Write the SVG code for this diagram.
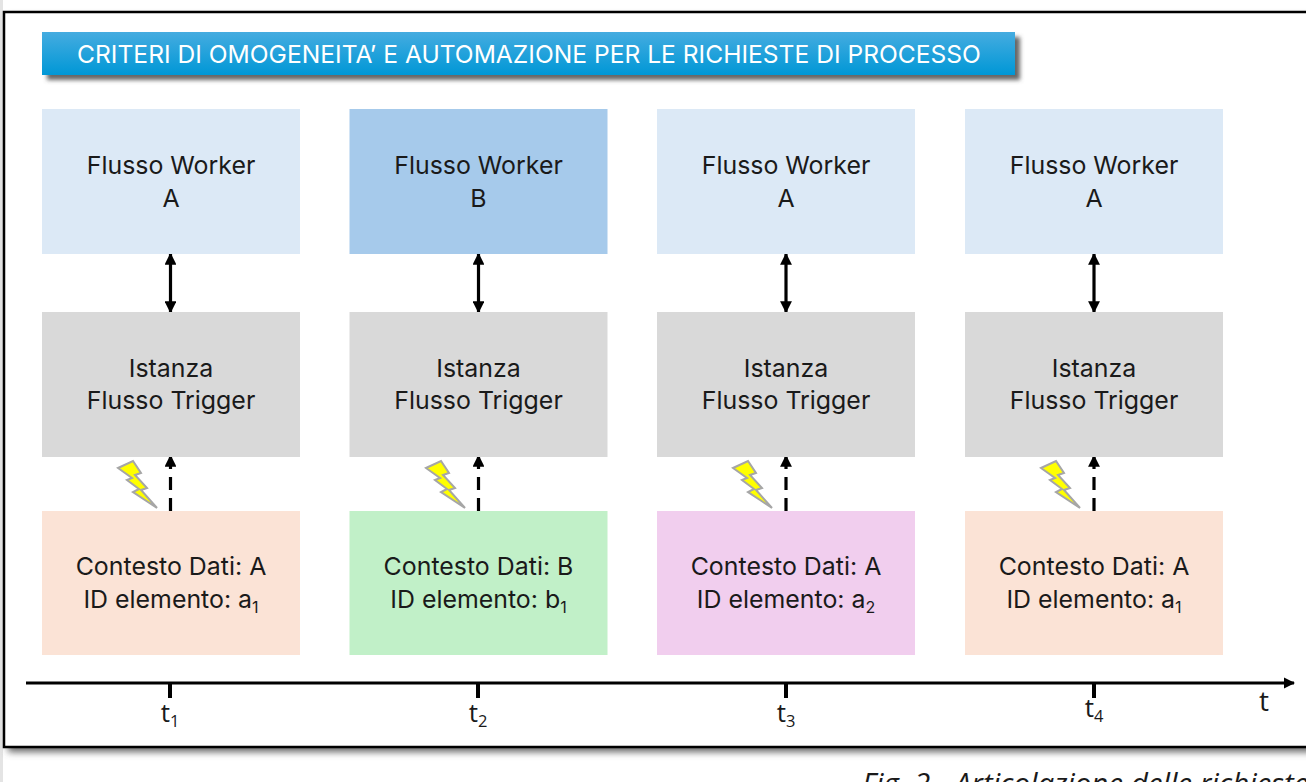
<svg xmlns="http://www.w3.org/2000/svg" width="1306" height="782" viewBox="0 0 1306 782">
<style>
.t{font-family:Inter,"Open Sans",sans-serif;font-size:24.900px;fill:#1a1a1a;text-anchor:middle}
.s{font-size:16px}
.k{font-family:"Open Sans","Noto Sans",sans-serif;font-size:26px;fill:#1a1a1a;text-anchor:middle}
.w{fill:#dce9f6}.b{fill:#a6caeb}.g{fill:#d9d9d9}.o{fill:#fbe3d6}.n{fill:#c1f0c8}.p{fill:#f1ceee}
.l{stroke:#000;stroke-width:3.2;fill:none}
.d{stroke:#000;stroke-width:3.2;fill:none;stroke-dasharray:13 8}
.tick{stroke:#000;stroke-width:4}
.bolt{fill:#ffff00;stroke:#a6a6a6;stroke-width:2}
</style>
<defs>
<linearGradient id="tg" x1="0" y1="0" x2="0" y2="1"><stop offset="0" stop-color="#45ace0"/><stop offset="1" stop-color="#0097d6"/></linearGradient>
<filter id="sh" x="-5%" y="-30%" width="110%" height="170%"><feGaussianBlur stdDeviation="2.2"/></filter>
<filter id="fs" x="-2%" y="-2%" width="104%" height="104%"><feGaussianBlur stdDeviation="3.5"/></filter>
<marker id="a" viewBox="0 0 10 10" refX="9" refY="5" markerWidth="3.7" markerHeight="3.7" orient="auto-start-reverse"><path d="M0 0L10 5L0 10Z" fill="#000"/></marker>
<path id="bolt" d="M-52 35L-37 28L-29 40L-35 42L-23 55L-29 57L-13 75L-37 59L-31 56L-43 47L-38 45Z"/>
</defs>
<rect width="1306" height="782" fill="#fff"/>
<rect x="0" y="0" width="3" height="782" fill="#e4e4e4"/>
<g id="frame">
<rect x="8" y="17" width="1320" height="735" fill="#666" filter="url(#fs)"/>
<rect x="4" y="12" width="1320" height="735" fill="#fff" stroke="#000" stroke-width="2.5"/>
</g>
<g id="title">
<rect x="47" y="37" width="973" height="43" fill="#666" filter="url(#sh)"/>
<rect x="42" y="32" width="973" height="43" fill="url(#tg)"/>
<text x="529" y="63" text-anchor="middle" style="font-family:Inter,'Noto Sans',sans-serif;font-size:24.6px;fill:#fff">CRITERI DI OMOGENEITA’ E AUTOMAZIONE PER LE RICHIESTE DI PROCESSO</text>
</g>
<g id="connectors">
<g id="c1"><line class="l" x1="170.500" y1="254" x2="170.500" y2="312" marker-start="url(#a)" marker-end="url(#a)"/><line class="d" x1="170.500" y1="511" x2="170.500" y2="456" marker-end="url(#a)"/></g>
<g id="c2"><line class="l" x1="478.500" y1="254" x2="478.500" y2="312" marker-start="url(#a)" marker-end="url(#a)"/><line class="d" x1="478.500" y1="511" x2="478.500" y2="456" marker-end="url(#a)"/></g>
<g id="c3"><line class="l" x1="786" y1="254" x2="786" y2="312" marker-start="url(#a)" marker-end="url(#a)"/><line class="d" x1="786" y1="511" x2="786" y2="456" marker-end="url(#a)"/></g>
<g id="c4"><line class="l" x1="1094" y1="254" x2="1094" y2="312" marker-start="url(#a)" marker-end="url(#a)"/><line class="d" x1="1094" y1="511" x2="1094" y2="456" marker-end="url(#a)"/></g>
</g>
<g id="bolts">
<use href="#bolt" class="bolt" transform="translate(170,433)"/>
<use href="#bolt" class="bolt" transform="translate(478,433)"/>
<use href="#bolt" class="bolt" transform="translate(785,433)"/>
<use href="#bolt" class="bolt" transform="translate(1093,433)"/>
</g>
<g id="w1"><rect class="w" x="42" y="109" width="258" height="145"/><text class="t" x="171" y="174">Flusso Worker</text><text class="t" x="171" y="207">A</text></g>
<g id="w2"><rect class="b" x="349.500" y="109" width="258" height="145"/><text class="t" x="478.500" y="174">Flusso Worker</text><text class="t" x="478.500" y="207">B</text></g>
<g id="w3"><rect class="w" x="657" y="109" width="258" height="145"/><text class="t" x="786" y="174">Flusso Worker</text><text class="t" x="786" y="207">A</text></g>
<g id="w4"><rect class="w" x="965" y="109" width="258" height="145"/><text class="t" x="1094" y="174">Flusso Worker</text><text class="t" x="1094" y="207">A</text></g>
<g id="i1"><rect class="g" x="42" y="312" width="258" height="145"/><text class="t" x="171" y="377">Istanza</text><text class="t" x="171" y="409">Flusso Trigger</text></g>
<g id="i2"><rect class="g" x="349.500" y="312" width="258" height="145"/><text class="t" x="478.500" y="377">Istanza</text><text class="t" x="478.500" y="409">Flusso Trigger</text></g>
<g id="i3"><rect class="g" x="657" y="312" width="258" height="145"/><text class="t" x="786" y="377">Istanza</text><text class="t" x="786" y="409">Flusso Trigger</text></g>
<g id="i4"><rect class="g" x="965" y="312" width="258" height="145"/><text class="t" x="1094" y="377">Istanza</text><text class="t" x="1094" y="409">Flusso Trigger</text></g>
<g id="d1"><rect class="o" x="42" y="511" width="258" height="144"/><text class="t" x="171" y="575">Contesto Dati: A</text><text class="t" x="171" y="608">ID elemento: a<tspan class="s" dy="5">1</tspan></text></g>
<g id="d2"><rect class="n" x="349.500" y="511" width="258" height="144"/><text class="t" x="478.500" y="575">Contesto Dati: B</text><text class="t" x="478.500" y="608">ID elemento: b<tspan class="s" dy="5">1</tspan></text></g>
<g id="d3"><rect class="p" x="657" y="511" width="258" height="144"/><text class="t" x="786" y="575">Contesto Dati: A</text><text class="t" x="786" y="608">ID elemento: a<tspan class="s" dy="5">2</tspan></text></g>
<g id="d4"><rect class="o" x="965" y="511" width="258" height="144"/><text class="t" x="1094" y="575">Contesto Dati: A</text><text class="t" x="1094" y="608">ID elemento: a<tspan class="s" dy="5">1</tspan></text></g>
<g id="axis">
<line x1="26" y1="683" x2="1294" y2="683" stroke="#000" stroke-width="3" marker-end="url(#a)"/>
<line class="tick" x1="170" y1="684" x2="170" y2="698"/>
<line class="tick" x1="478" y1="684" x2="478" y2="698"/>
<line class="tick" x1="786" y1="684" x2="786" y2="698"/>
<line class="tick" x1="1094" y1="684" x2="1094" y2="698"/>
<text class="k" x="170" y="722">t<tspan font-size="16.500" dy="5">1</tspan></text>
<text class="k" x="478" y="722">t<tspan font-size="16.500" dy="5">2</tspan></text>
<text class="k" x="786" y="722">t<tspan font-size="16.500" dy="5">3</tspan></text>
<text class="k" x="1094" y="717">t<tspan font-size="16.500" dy="5">4</tspan></text>
<text class="k" x="1264" y="711" style="font-size:28px">t</text>
</g>
<text x="862" y="794" style="font-family:'Open Sans','Noto Sans',sans-serif;font-size:29.5px;font-style:italic;fill:#1a1a1a">Fig. 2 - Articolazione delle richieste</text>
</svg>
